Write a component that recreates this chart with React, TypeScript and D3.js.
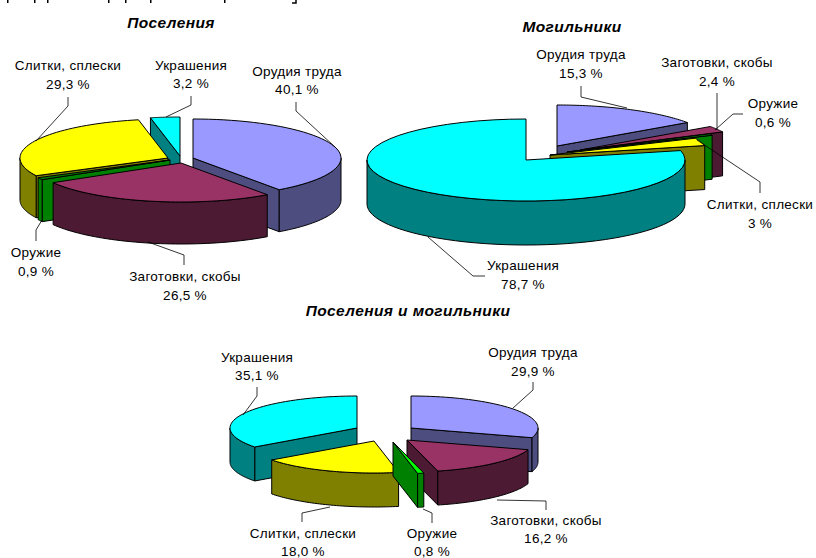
import React from "react";
import * as d3 from "d3";

// ---- data ----
const categories = ["Орудия труда", "Заготовки, скобы", "Оружие", "Слитки, сплески", "Украшения"];
const settlementValues = [40.1, 26.5, 0.9, 29.3, 3.2];
const settlementLabels = ["40,1 %", "26,5 %", "0,9 %", "29,3 %", "3,2 %"];
const burialValues = [15.3, 2.4, 0.6, 3, 78.7];
const burialLabels = ["15,3 %", "2,4 %", "0,6 %", "3 %", "78,7 %"];
const combinedValues = [29.9, 16.2, 0.8, 18.0, 35.1];
const combinedLabels = ["29,9 %", "16,2 %", "0,8 %", "18,0 %", "35,1 %"];
// feet of the cropped line of text along the picture's top edge (x positions)
const croppedFeet = [7, 34, 47, 108, 125, 150, 224];

// ---- styles ----
const topColors = ["#9999FF", "#993366", "#008000", "#FFFF00", "#00FFFF"];
const sideColors = ["#4D4D80", "#4D1A33", "#008000", "#808000", "#008080"];
const FONT = "'Liberation Sans', Arial, sans-serif";

type Pt = [number, number];
interface PieLayout {
  title: string; titleX: number; titleY: number;
  values: number[]; labels: string[];
  rx: number; ry: number; depth: number;
  tips: Pt[]; order: number[];
  labelPos: [number, number, number][];
  leaders: Pt[][];
  topColors?: string[];
}

const pies: PieLayout[] = [
  {
    title: "Поселения", titleX: 171, titleY: 28,
    values: settlementValues, labels: settlementLabels,
    rx: 148, ry: 39, depth: 42,
    tips: [[193, 158], [181, 163], [170, 160], [168, 158], [180, 156]],
    order: [4, 0, 3, 2, 1],
    labelPos: [[297, 76, 94], [185, 281, 300], [36, 257, 276], [68, 70, 89], [191, 70, 88]],
    leaders: [
      [[296, 102], [296, 111], [335, 147]],
      [[184, 265], [184, 255], [148, 242]],
      [[36, 241], [36, 230], [42, 220]],
      [[68, 97], [68, 106], [36, 141]],
      [[191, 96], [191, 105], [166, 117]],
    ],
  },
  {
    title: "Могильники", titleX: 572, titleY: 32,
    values: burialValues, labels: burialLabels,
    rx: 159, ry: 41, depth: 44,
    tips: [[557, 146], [580, 150], [567, 152], [550, 155], [526, 160]],
    order: [0, 1, 2, 3, 4],
    labelPos: [[581, 59, 78], [717, 67, 86], [773, 108, 127], [760, 209, 228], [523, 270, 289]],
    leaders: [
      [[581, 86], [581, 97], [627, 108]],
      [[717, 93], [717, 130]],
      [[743, 114], [733, 114], [715, 130]],
      [[760, 193], [760, 182], [697, 140]],
      [[485, 276], [473, 276], [428, 237]],
    ],
  },
  {
    title: "Поселения и могильники", titleX: 408, titleY: 316,
    values: combinedValues, labels: combinedLabels,
    rx: 127, ry: 32, depth: 34,
    tips: [[411, 428], [407, 440], [393, 442], [374, 441], [357, 428]],
    order: [4, 0, 1, 3, 2],
    labelPos: [[533, 357, 376], [546, 525, 543], [432, 538, 555.5], [303, 538, 555.5], [257, 362, 380]],
    leaders: [
      [[533, 382], [533, 390], [513, 408]],
      [[546, 510], [546, 501], [497, 500]],
      [[432, 523], [432, 513], [423, 509]],
      [[302, 522], [302, 513], [330, 507]],
      [[257, 387], [257, 396], [243, 415]],
    ],
    topColors: ["#9999FF", "#993366", "#00FF00", "#FFFF00", "#00FFFF"],
  },
];

const pieGen = d3.pie<number>().sort(null).value((d) => d);
const lineGen = d3.line<Pt>();

function arcPoints(tip: Pt, rx: number, ry: number, a0: number, a1: number): Pt[] {
  const scale = d3.scaleLinear().domain([0, 48]).range([a0, a1]);
  return d3.range(49).map((i) => {
    const a = scale(i);
    return [tip[0] + rx * Math.sin(a), tip[1] - ry * Math.cos(a)] as Pt;
  });
}

function Slice({ p, i, arc }: { p: PieLayout; i: number; arc: d3.PieArcDatum<number> }) {
  const { rx, ry, depth } = p;
  const tip = p.tips[i];
  const a0 = arc.startAngle, a1 = arc.endAngle;
  const stroke = { stroke: "#000", strokeWidth: 1, strokeLinejoin: "round" as const };
  const down = (q: Pt): Pt => [q[0], q[1] + depth];
  const faces: Pt[][] = [];
  const edge = (a: number) => {
    const o: Pt = [tip[0] + rx * Math.sin(a), tip[1] - ry * Math.cos(a)];
    faces.push([tip, o, down(o), down(tip)]);
  };
  if (Math.sin(a1) > 1e-6) edge(a1);
  if (Math.sin(a0) < -1e-6) edge(a0);
  // outer wall: only the part on the near half of the ellipse
  const w0 = Math.max(a0, Math.PI / 2), w1 = Math.min(a1, (3 * Math.PI) / 2);
  if (w1 > w0) {
    const top = arcPoints(tip, rx, ry, w0, w1);
    faces.push([...top, ...top.map(down).reverse()]);
  }
  const topFace: Pt[] = [tip, ...arcPoints(tip, rx, ry, a0, a1)];
  return (
    <g>
      {faces.map((f, k) => (
        <path key={k} d={lineGen(f) + "Z"} fill={sideColors[i]} {...stroke} />
      ))}
      <path d={lineGen(topFace) + "Z"} fill={(p.topColors ?? topColors)[i]} {...stroke} />
    </g>
  );
}

function Pie3D({ p }: { p: PieLayout }) {
  const arcs = pieGen(p.values);
  return (
    <g>
      {p.order.map((i) => (
        <Slice key={i} p={p} i={i} arc={arcs[i]} />
      ))}
      {p.leaders.map((l, i) => (
        <path key={i} d={lineGen(l) ?? ""} fill="none" stroke="#000" strokeWidth={0.8} />
      ))}
      {categories.map((c, i) => (
        <g key={c} fontFamily={FONT} fontSize={13.5} letterSpacing={0.3} fill="#000" textAnchor="middle">
          <text x={p.labelPos[i][0]} y={p.labelPos[i][1]}>{c}</text>
          <text x={p.labelPos[i][0]} y={p.labelPos[i][2]}>{p.labels[i]}</text>
        </g>
      ))}
      <text x={p.titleX} y={p.titleY} textAnchor="middle" fontFamily={FONT} fontSize={15.5} letterSpacing={0.4}
        fontWeight="bold" fontStyle="italic" fill="#000">{p.title}</text>
    </g>
  );
}

export default function App() {
  return (
    <svg width={816} height={558} style={{ position: "absolute", left: 0, top: 0, background: "#fff" }}>
      {pies.map((p) => (
        <Pie3D key={p.title} p={p} />
      ))}
      {croppedFeet.map((x) => (
        <rect key={x} x={x} y={0} width={1.5} height={3} fill="#000" />
      ))}
      <path d="M296 0V3H292" fill="none" stroke="#000" strokeWidth={1.5} />
    </svg>
  );
}
